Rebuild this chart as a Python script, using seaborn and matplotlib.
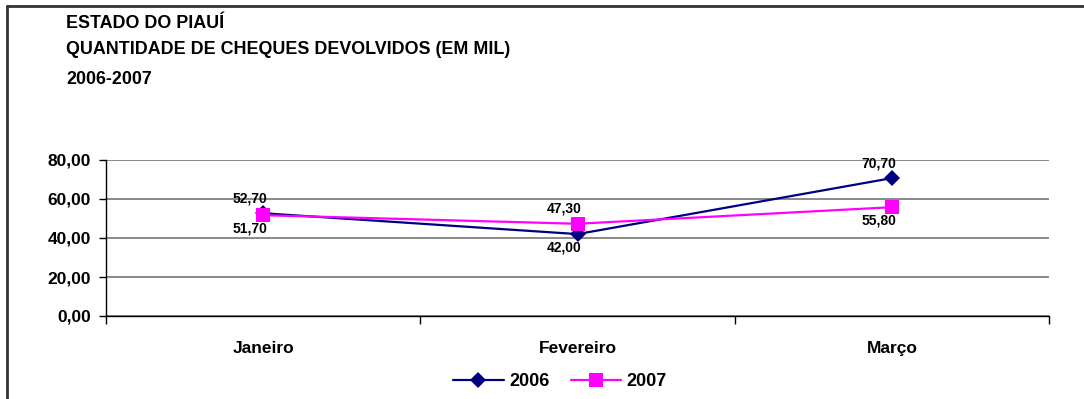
import matplotlib
matplotlib.use("Agg")
import matplotlib.pyplot as plt
from matplotlib.lines import Line2D
import seaborn as sns
import pandas as pd

meses = ["Janeiro", "Fevereiro", "Março"]
valores_2006 = [52.70, 42.00, 70.70]
valores_2007 = [51.70, 47.30, 55.80]
# label placement per point: +1 above the marker, -1 below
posicao_2006 = [1, -1, 1]
posicao_2007 = [-1, 1, -1]
y_ticks = [0, 20, 40, 60, 80]

sns.set_theme(style="white")
plt.rcParams["font.family"] = ["Liberation Sans", "DejaVu Sans"]
plt.rcParams["font.weight"] = "bold"
plt.rcParams["text.color"] = "black"
plt.rcParams["xtick.color"] = "black"
plt.rcParams["ytick.color"] = "black"

fig = plt.figure(figsize=(10.84, 3.99), dpi=100)
ax = fig.add_axes([106 / 1084, 1 - 316 / 399, (1049 - 106) / 1084, (316 - 160) / 399])

df = pd.DataFrame({
    "pos": list(range(len(meses))) * 2,
    "valor": valores_2006 + valores_2007,
    "ano": ["2006"] * len(meses) + ["2007"] * len(meses),
})

estilos = {
    "2006": dict(color="#000080", marker="D", markersize=8, zorder=3),
    "2007": dict(color="#FF00FF", marker="s", markersize=10, zorder=4),
}
for ano, kw in estilos.items():
    sub = df[df["ano"] == ano]
    sns.lineplot(data=sub, x="pos", y="valor", ax=ax, label=ano,
                 linewidth=1.6, markeredgewidth=0, legend=False, **kw)

# value labels, offset left of the marker
for valores, posicoes in ((valores_2006, posicao_2006), (valores_2007, posicao_2007)):
    for i, (v, p) in enumerate(zip(valores, posicoes)):
        dy = 15 if p > 0 else -13
        ax.annotate(f"{v:.2f}".replace(".", ","), (i, v),
                    xytext=(-13, dy), textcoords="offset pixels",
                    ha="center", va="center", fontsize=10,
                    fontweight="bold", color="black", zorder=5)

ax.set_xlim(-0.5, len(meses) - 0.5)
ax.set_ylim(0, 80)
ax.set_yticks(y_ticks)
ax.set_yticklabels([f"{t:.2f}".replace(".", ",") for t in y_ticks],
                   fontsize=12.5, fontweight="bold", color="black")
ax.set_xticks(range(len(meses)))
ax.set_xticklabels(meses, fontsize=12.5, fontweight="bold", color="black")
ax.set_xticks([i - 0.5 for i in range(len(meses) + 1)], minor=True)
ax.tick_params(axis="x", which="major", length=0, pad=18)
ax.tick_params(axis="x", which="minor", length=6, width=1, color="black",
               direction="out", bottom=True)
ax.tick_params(axis="y", length=5, width=1, color="black", direction="out",
               left=True, pad=6)
ax.set_xlabel("")
ax.set_ylabel("")

ax.yaxis.grid(True, color="#808080", linewidth=1.3)
ax.xaxis.grid(False)
ax.set_axisbelow(True)
for lado in ("top", "right"):
    ax.spines[lado].set_visible(False)
for lado in ("left", "bottom"):
    ax.spines[lado].set_color("black")
    ax.spines[lado].set_linewidth(1)

handles, labels = ax.get_legend_handles_labels()
leg = fig.legend(handles, labels, loc="center", bbox_to_anchor=(560 / 1084, 1 - 382 / 399),
                 ncol=2, frameon=False, handlelength=2.8, columnspacing=1.2,
                 handletextpad=0.3, prop={"size": 13, "weight": "bold"})
for t in leg.get_texts():
    t.set_color("black")

titulo = ["ESTADO DO PIAUÍ", "QUANTIDADE DE CHEQUES DEVOLVIDOS (EM MIL)", "2006-2007"]
for linha, y in zip(titulo, (23, 50, 80)):
    fig.text(66 / 1084, 1 - y / 399, linha, ha="left", va="center",
             fontsize=12.9, fontweight="bold", color="black")

# outer frame (left and top edges)
fig.add_artist(Line2D([7 / 1084, 7 / 1084], [0, 1 - 6 / 399],
                      transform=fig.transFigure, color="#333333", linewidth=2))
fig.add_artist(Line2D([7 / 1084, 1], [1 - 6 / 399, 1 - 6 / 399],
                      transform=fig.transFigure, color="#333333", linewidth=2))

fig.savefig("out.png", dpi=100)
